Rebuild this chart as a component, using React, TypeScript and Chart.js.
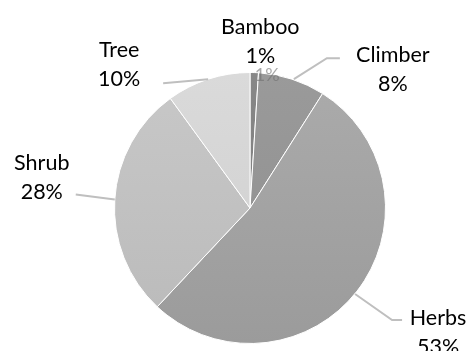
import React, { useEffect, useRef } from "react";
import { Chart, registerables } from "chart.js";

Chart.register(...registerables);

// Share of plant habit types (percent)
const categories = ["Bamboo", "Climber", "Herbs", "Shrub", "Tree"];
const shares = [1, 8, 53, 28, 10];

// Slice fills: lighter at the top, slightly darker at the bottom
const fillTop = ["#878787", "#9a9a9a", "#ababab", "#c8c8c8", "#dadada"];
const fillBottom = ["#7b7b7b", "#8e8e8e", "#9b9b9b", "#bababa", "#cecece"];

const FONT = '21.5px Lato, "Open Sans", sans-serif';
const LINE_GAP = 29;

// Callout placement relative to the point on each slice's outer edge
type Callout = {
  path: [number, number][];
  text: [number, number]; // label centre x, first baseline y
};
const callouts: Record<string, Callout> = {
  Bamboo: { path: [], text: [6, -39] },
  Climber: { path: [[2, 0], [35, -21], [48, -21]], text: [101, -17] },
  Herbs: { path: [[-2, 3], [35, 29], [45, 29]], text: [81, 34] },
  Shrub: { path: [[0, 0], [-39, -5]], text: [-73, -29] },
  Tree: { path: [[0, 0], [-45, 4]], text: [-89, -22] },
};

const calloutPlugin = {
  id: "callouts",
  afterDatasetsDraw(chart: any) {
    const ctx: CanvasRenderingContext2D = chart.ctx;
    const meta = chart.getDatasetMeta(0);
    ctx.save();

    // faint duplicate of the smallest slice's value just above its tip
    const first = meta.data[0];
    if (first) {
      const mid = (first.startAngle + first.endAngle) / 2;
      const ex = first.x + Math.cos(mid) * first.outerRadius;
      const ey = first.y + Math.sin(mid) * first.outerRadius;
      ctx.save();
      ctx.beginPath();
      ctx.rect(ex - 20, ey - 5, 60, 20);
      ctx.clip();
      ctx.font = '18px Lato, "Open Sans", sans-serif';
      ctx.fillStyle = "rgba(110,110,110,0.6)";
      ctx.textAlign = "center";
      ctx.textBaseline = "alphabetic";
      ctx.fillText(`${shares[0]}%`, ex + 13, ey + 8);
      ctx.restore();
    }

    meta.data.forEach((arc: any, i: number) => {
      const name = categories[i];
      const c = callouts[name];
      if (!c) return;
      const mid = (arc.startAngle + arc.endAngle) / 2;
      const ex = arc.x + Math.cos(mid) * arc.outerRadius;
      const ey = arc.y + Math.sin(mid) * arc.outerRadius;

      if (c.path.length > 1) {
        ctx.beginPath();
        c.path.forEach(([dx, dy], k) => {
          if (k === 0) ctx.moveTo(ex + dx, ey + dy);
          else ctx.lineTo(ex + dx, ey + dy);
        });
        ctx.strokeStyle = "#bfbfbf";
        ctx.lineWidth = 2;
        ctx.stroke();
      }

      const tx = ex + c.text[0];
      const ty = ey + c.text[1];
      ctx.fillStyle = "#000000";
      ctx.font = FONT;
      ctx.textAlign = "center";
      ctx.textBaseline = "alphabetic";
      ctx.fillText(name, tx, ty);
      ctx.fillText(`${shares[i]}%`, tx, ty + LINE_GAP);
    });
    ctx.restore();
  },
};

export default function App() {
  const canvasRef = useRef<HTMLCanvasElement | null>(null);

  useEffect(() => {
    const canvas = canvasRef.current;
    if (!canvas) return;
    const chart = new Chart(canvas, {
      type: "pie",
      data: {
        labels: categories,
        datasets: [
          {
            data: shares,
            backgroundColor: (c: any) => {
              const area = c.chart.chartArea;
              if (!area) return fillTop[c.dataIndex];
              const g = c.chart.ctx.createLinearGradient(0, area.top, 0, area.bottom);
              g.addColorStop(0, fillTop[c.dataIndex]);
              g.addColorStop(1, fillBottom[c.dataIndex]);
              return g;
            },
            borderColor: "#ffffff",
            borderWidth: 1,
          },
        ],
      },
      options: {
        responsive: false,
        animation: false,
        devicePixelRatio: 1,
        layout: { padding: { top: 72, bottom: 7, left: 114, right: 81 } },
        plugins: {
          legend: { display: false },
          tooltip: { enabled: false },
        },
      },
      plugins: [calloutPlugin],
    });
    return () => chart.destroy();
  }, []);

  return (
    <div style={{ position: "fixed", left: 0, top: 0, width: 467, height: 351, background: "#ffffff" }}>
      <canvas ref={canvasRef} width={467} height={351} />
    </div>
  );
}
